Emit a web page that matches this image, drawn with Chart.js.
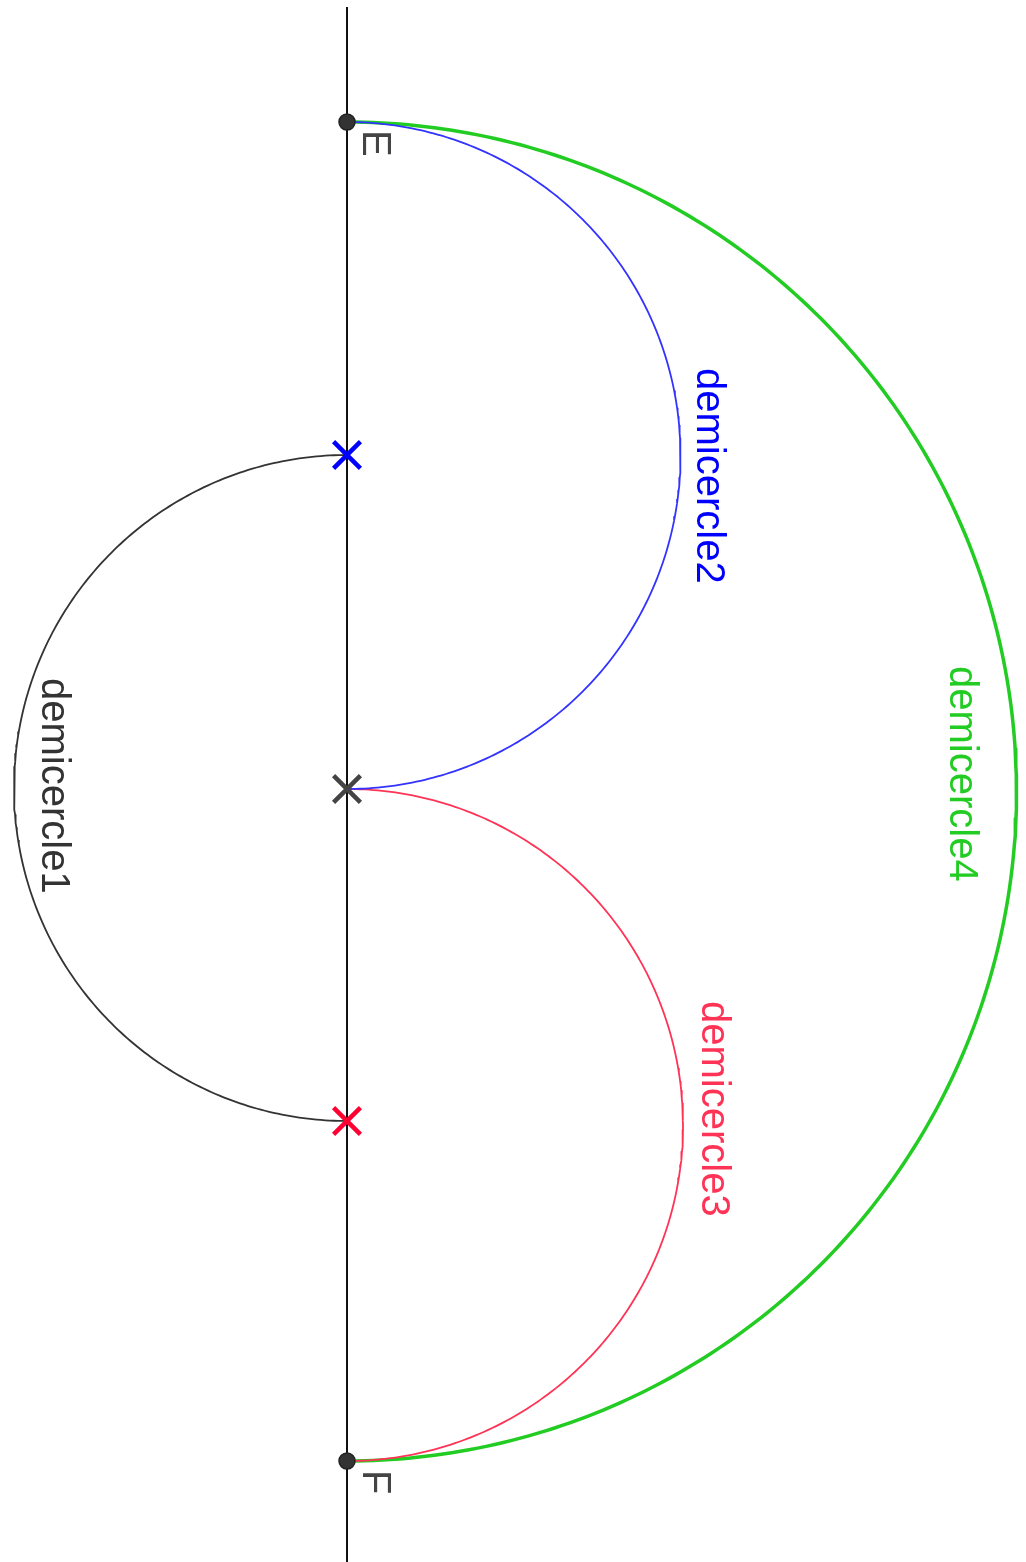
<!DOCTYPE html>
<html>
<head>
<meta charset="utf-8">
<script src="https://cdn.jsdelivr.net/npm/chart.js@4"></script>
<style>
  html, body { margin: 0; padding: 0; background: #ffffff; }
  canvas { display: block; }
</style>
</head>
<body>
<canvas id="c" width="1026" height="1562"></canvas>
<script>
// Positions along the vertical line (y, picture units, downwards)
const pointNames = ['E', 'F'];
const pointY = [122, 1461];
const crossNames = ['blue', 'gray', 'red'];
const crossY = [455, 789, 1121];
const crossColors = ['#0000ff', '#444444', '#ff0033'];
const lineTop = 7;
const lineBottom = 1562;

// Semicircles: [startY, endY], side (+1 right, -1 left)
const arcNames = ['demicercle1', 'demicercle2', 'demicercle3', 'demicercle4'];
const arcStart = [455, 122, 789, 122];
const arcEnd = [1121, 789, 1461, 1461];
const arcSide = [-1, 1, 1, 1];
const arcColors = ['#333333', '#3333ff', '#ff3355', '#22cc22'];
const arcWidths = [1.8, 1.8, 1.8, 3.5];

// Labels (anchor x, y) in the same units
const labelTexts = ['demicercle1', 'demicercle2', 'demicercle3', 'demicercle4', 'E', 'F'];
const labelX = [-305, 350, 355, 603, 16, 16];
const labelY = [678, 368, 1001, 666, 130, 1470];
const labelColors = ['#333333', '#0000ff', '#ff3355', '#22cc22', '#444444', '#444444'];

function semicircle(y1, y2, side) {
  const cy = (y1 + y2) / 2, r = Math.abs(y2 - y1) / 2;
  const pts = [];
  const n = 240;
  for (let i = 0; i <= n; i++) {
    const t = -Math.PI / 2 + Math.PI * i / n;
    pts.push({ x: side * r * Math.cos(t), y: cy + r * Math.sin(t) });
  }
  return pts;
}

const datasets = [];
// points on top (first datasets drawn last)
datasets.push({
  data: pointY.map(y => ({ x: 0, y })),
  pointRadius: 8, pointBackgroundColor: '#333333', pointBorderColor: '#222222',
  pointBorderWidth: 1.5, showLine: false
});
crossY.forEach((y, i) => {
  datasets.push({
    data: [{ x: 0, y }],
    pointStyle: 'crossRot', pointRadius: 19, pointBorderWidth: 4.5,
    pointBorderColor: crossColors[i], pointBackgroundColor: crossColors[i], showLine: false
  });
});
arcNames.forEach((name, i) => {
  datasets.push({
    label: name,
    data: semicircle(arcStart[i], arcEnd[i], arcSide[i]),
    showLine: true, pointRadius: 0, borderColor: arcColors[i],
    borderWidth: arcWidths[i], tension: 0
  });
});
datasets.push({
  data: [{ x: 0, y: lineTop }, { x: 0, y: lineBottom }],
  showLine: true, pointRadius: 0, borderColor: '#111111', borderWidth: 2
});

const labelPlugin = {
  id: 'rotLabels',
  afterDatasetsDraw(chart) {
    const ctx = chart.ctx, xs = chart.scales.x, ys = chart.scales.y;
    ctx.save();
    ctx.font = '40px "Liberation Sans", Arial, sans-serif';
    ctx.textAlign = 'left';
    ctx.textBaseline = 'alphabetic';
    labelTexts.forEach((t, i) => {
      ctx.save();
      ctx.translate(xs.getPixelForValue(labelX[i]), ys.getPixelForValue(labelY[i]));
      ctx.rotate(Math.PI / 2);
      ctx.fillStyle = labelColors[i];
      ctx.fillText(t, 0, 0);
      ctx.restore();
    });
    ctx.restore();
  }
};

new Chart(document.getElementById('c'), {
  type: 'scatter',
  data: { datasets },
  options: {
    responsive: false, animation: false, devicePixelRatio: 1,
    layout: { padding: 0, autoPadding: false },
    plugins: { legend: { display: false }, tooltip: { enabled: false } },
    elements: { line: { borderCapStyle: 'butt' } },
    scales: {
      x: { type: 'linear', min: -347, max: 679, display: false },
      y: { type: 'linear', min: 0, max: 1562, reverse: true, display: false }
    }
  },
  plugins: [labelPlugin]
});
</script>
</body>
</html>
